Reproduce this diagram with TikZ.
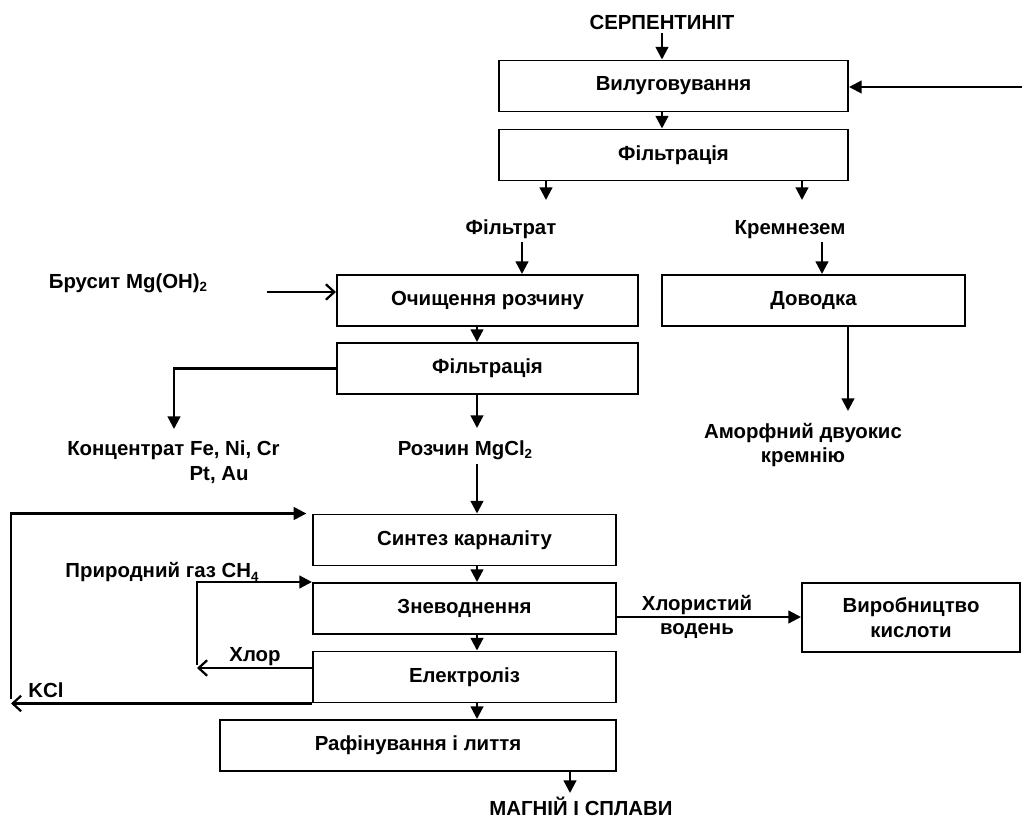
\documentclass[tikz,border=0pt]{standalone}
\usepackage{fontspec}
\setmainfont{Liberation Sans}
\usetikzlibrary{arrows.meta}
\newcommand{\chemsub}[1]{\raisebox{-0.35ex}{\fontsize{9.5}{9.5}\selectfont #1}}

\begin{document}
\begin{tikzpicture}[x=0.025cm,y=-0.025cm,
  font=\fontsize{14.5}{17.5}\selectfont\bfseries,
  box/.style={draw,line width=1.4pt,minimum height=1.275cm,inner sep=0pt,align=center},
  lbl/.style={inner sep=0pt,align=center},
  tri/.style={line width=1.6pt,-{Triangle[length=9pt,width=9pt]}},
  barb/.style={line width=1.6pt,-{Straight Barb[length=6pt,width=11pt]}}]
  \useasboundingbox (0,0) rectangle (1022,819);
  % Process boxes
  \node [box,minimum width=8.725cm] (vyl) at (673.5,86) {Вилуговування};
  \node [box,minimum width=8.725cm] (filtr1) at (673.5,155) {Фільтрація};
  \node [box,minimum width=7.525cm] (ochyshch) at (487.5,300.5) {Очищення розчину};
  \node [box,minimum width=7.575cm] (dovodka) at (813.5,300.5) {Доводка};
  \node [box,minimum width=7.525cm] (filtr2) at (487.5,368.5) {Фільтрація};
  \node [box,minimum width=7.575cm] (syntez) at (464.5,540) {Синтез карналіту};
  \node [box,minimum width=7.575cm] (znevod) at (464.5,608.5) {Зневоднення};
  \node [box,minimum width=7.575cm] (elektr) at (464.5,677) {Електроліз};
  \node [box,minimum width=9.9cm] (rafin) at (418,745.5) {Рафінування і лиття};
  \node [box,minimum width=5.45cm,minimum height=1.725cm] (vyrob) at (911,617.5)
    {Виробництво\\кислоти};
  % Labels
  \node [lbl] (serp) at (662,22) {СЕРПЕНТИНІТ};
  \node [lbl] (filtrat) at (511,229) {Фільтрат};
  \node [lbl] (kremnezem) at (790,230) {Кремнезем};
  \node [lbl] (brusyt) at (128,283) {Брусит Mg(OH)\chemsub{2}};
  \node [lbl,anchor=west,align=left] (konc) at (67,462)
    {Концентрат Fe, Ni, Cr\\\hspace*{87pt}Pt, Au};
  \node [lbl] (rozchyn) at (465,450) {Розчин MgCl\chemsub{2}};
  \node [lbl] (amorf) at (803,445) {Аморфний двуокис\\кремнію};
  \node [lbl] (gaz) at (162,572) {Природний газ CH\chemsub{4}};
  \node [lbl] (khlor) at (255,657) {Хлор};
  \node [lbl] (kcl) at (46,690) {KCl};
  \node [lbl] (hcl) at (697,617) {Хлористий\\водень};
  \node [lbl] (magnij) at (581,806) {МАГНІЙ І СПЛАВИ};
  % Free ends
  \coordinate (top) at (662,33);
  \coordinate (rin) at (1022,87);
  \coordinate (fa) at (546,200);
  \coordinate (fb) at (802,200);
  \coordinate (fc) at (522,242);
  \coordinate (fd) at (822,242);
  \coordinate (bin) at (267,292);
  \coordinate (col) at (477,0);
  \coordinate (konctip) at (174,429);
  \coordinate (roztip) at (477,428);
  \coordinate (rz) at (477,464);
  \coordinate (amtip) at (848,411);
  \coordinate (mag) at (570,793);
  \coordinate (kcltip) at (11,702);
  \coordinate (kclup) at (11,699);
  \coordinate (chltip) at (197,668);
  \coordinate (chlup) at (197,665);
  \coordinate (hclrow) at (616,617);
  % Main line
  \draw [tri] (top) -- (vyl.north -| top);
  \draw [tri] (vyl.south -| top) -- (filtr1.north -| top);
  \draw [tri] (rin) -- (vyl.east |- rin);
  \draw [tri] (filtr1.south -| fa) -- (fa);
  \draw [tri] (filtr1.south -| fb) -- (fb);
  \draw [tri] (fc) -- (ochyshch.north -| fc);
  \draw [tri] (fd) -- (dovodka.north -| fd);
  \draw [barb] (bin) -- (ochyshch.west |- bin);
  \draw [tri] (ochyshch.south -| col) -- (filtr2.north -| col);
  \draw [tri] (filtr2.west) -| (konctip);
  \draw [tri] (filtr2.south -| col) -- (roztip);
  \draw [tri] (dovodka.south -| amtip) -- (amtip);
  \draw [tri] (rz) -- (syntez.north -| rz);
  \draw [tri] (syntez.south -| col) -- (znevod.north -| col);
  \draw [tri] (znevod.south -| col) -- (elektr.north -| col);
  \draw [tri] (elektr.south -| col) -- (rafin.north -| col);
  \draw [tri] (rafin.south -| mag) -- (mag);
  % Recycles
  \draw [barb] (elektr.south west) -- (elektr.south west -| kcltip);
  \draw [tri] (kclup) |- ([xshift=-4pt]syntez.north west);
  \draw [barb] (elektr.west |- chltip) -- (chltip);
  \draw [tri] (chlup) |- (znevod.north west);
  \draw [tri] (znevod.east |- hclrow) -- (vyrob.west |- hclrow);
\end{tikzpicture}
\end{document}
